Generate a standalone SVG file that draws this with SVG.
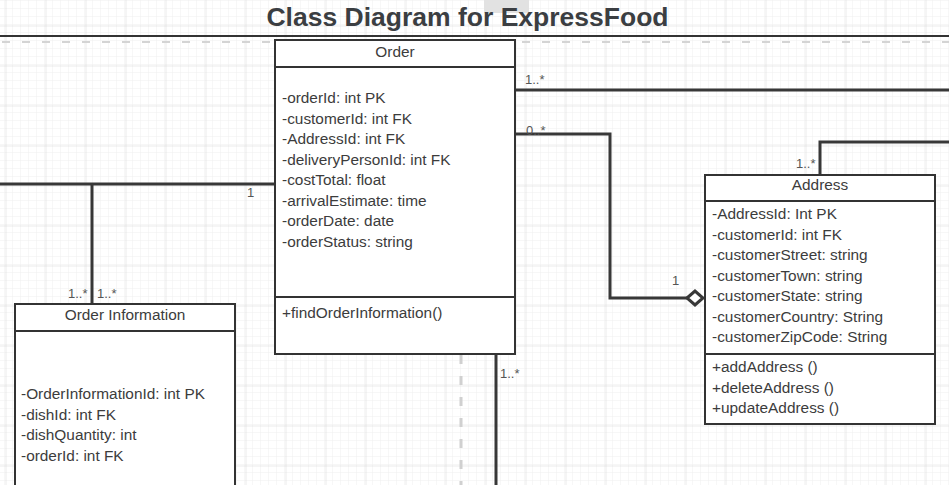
<svg xmlns="http://www.w3.org/2000/svg" width="949" height="485" viewBox="0 0 949 485">
<defs>
<pattern id="minor" width="8" height="8" patternUnits="userSpaceOnUse" x="5" y="1">
<path d="M8 0V8M0 8H8" fill="none" stroke="#efefef" stroke-width="1"/>
</pattern>
<pattern id="major" width="40" height="40" patternUnits="userSpaceOnUse" x="5.5" y="25.5">
<path d="M0 0V40M0 0H40" fill="none" stroke="#d6d6d6" stroke-width="1"/>
</pattern>
</defs>
<style>
.box{fill:#fff;stroke:#333;stroke-width:2}
.sep{stroke:#333;stroke-width:2}
.t{font-family:"Liberation Sans",Arial,sans-serif;font-size:15.4px;fill:#3c3c3c}
.c{text-anchor:middle}
.lbl{font-family:"Liberation Sans",Arial,sans-serif;font-size:13px;fill:#555}
.ln{fill:none;stroke:#383838;stroke-width:3}
</style>
<rect width="949" height="485" fill="#fff"/>
<rect width="949" height="485" fill="url(#minor)"/>
<rect width="949" height="485" fill="url(#major)"/>
<rect x="484" y="0" width="45" height="13" fill="#e2e2e2"/>
<text x="467.5" y="26" text-anchor="middle" font-family="'Liberation Sans',Arial,sans-serif" font-size="26.5" font-weight="bold" fill="#3b3e42">Class Diagram for ExpressFood</text>
<line x1="0" y1="36" x2="949" y2="36" stroke="#333" stroke-width="2"/>
<line x1="0" y1="42" x2="949" y2="42" stroke="#d4d4d4" stroke-width="2" stroke-dasharray="8 12" stroke-dashoffset="-2"/>
<line x1="461" y1="355" x2="461" y2="485" stroke="#d0d0d0" stroke-width="3" stroke-dasharray="9 12"/>
<g id="connectors">
<polyline class="ln" points="0,184 275,184"/>
<polyline class="ln" points="92,184 92,304"/>
<polyline class="ln" points="515,90 949,90"/>
<polyline class="ln" points="515,134 610,134 610,298 687,298"/>
<polygon points="687,298 695,291 703,298 695,305" fill="#fff" stroke="#383838" stroke-width="3"/>
<polyline class="ln" points="820,175 820,142 949,142"/>
<polyline class="ln" points="496,354 496,485"/>
<text class="lbl" x="247" y="197">1</text>
<text class="lbl" x="68" y="298">1..*</text>
<text class="lbl" x="97" y="298">1..*</text>
<text class="lbl" x="525" y="84">1..*</text>
<text class="lbl" x="526" y="135">0..*</text>
<text class="lbl" x="796" y="168">1..*</text>
<text class="lbl" x="672" y="285">1</text>
<text class="lbl" x="500" y="378">1..*</text>
</g>
<g id="order">
<rect class="box" x="275" y="40" width="240" height="314"/>
<line class="sep" x1="275" y1="67" x2="515" y2="67"/>
<line class="sep" x1="275" y1="297" x2="515" y2="297"/>
<text class="t c" x="395" y="57">Order</text>
<text class="t" x="282" y="103">-orderId: int PK</text>
<text class="t" x="282" y="123.5">-customerId: int FK</text>
<text class="t" x="282" y="144">-AddressId: int FK</text>
<text class="t" x="282" y="164.5">-deliveryPersonId: int FK</text>
<text class="t" x="282" y="185">-costTotal: float</text>
<text class="t" x="282" y="205.5">-arrivalEstimate: time</text>
<text class="t" x="282" y="226">-orderDate: date</text>
<text class="t" x="282" y="246.5">-orderStatus: string</text>
<text class="t" x="282" y="318">+findOrderInformation()</text>
</g>
<g id="address">
<rect class="box" x="705" y="175" width="230" height="249"/>
<line class="sep" x1="705" y1="201" x2="935" y2="201"/>
<line class="sep" x1="705" y1="354" x2="935" y2="354"/>
<text class="t c" x="820" y="190">Address</text>
<text class="t" x="712" y="219">-AddressId: Int PK</text>
<text class="t" x="712" y="239.5">-customerId: int FK</text>
<text class="t" x="712" y="260">-customerStreet: string</text>
<text class="t" x="712" y="280.5">-customerTown: string</text>
<text class="t" x="712" y="301">-customerState: string</text>
<text class="t" x="712" y="321.5">-customerCountry: String</text>
<text class="t" x="712" y="342">-customerZipCode: String</text>
<text class="t" x="712" y="372">+addAddress ()</text>
<text class="t" x="712" y="392.5">+deleteAddress ()</text>
<text class="t" x="712" y="413">+updateAddress ()</text>
</g>
<g id="order-information">
<rect class="box" x="15" y="304" width="220" height="190"/>
<line class="sep" x1="15" y1="331" x2="235" y2="331"/>
<text class="t c" x="125" y="320">Order Information</text>
<text class="t" x="21" y="399">-OrderInformationId: int PK</text>
<text class="t" x="21" y="419.5">-dishId: int FK</text>
<text class="t" x="21" y="440">-dishQuantity: int</text>
<text class="t" x="21" y="460.5">-orderId: int FK</text>
</g>
</svg>
